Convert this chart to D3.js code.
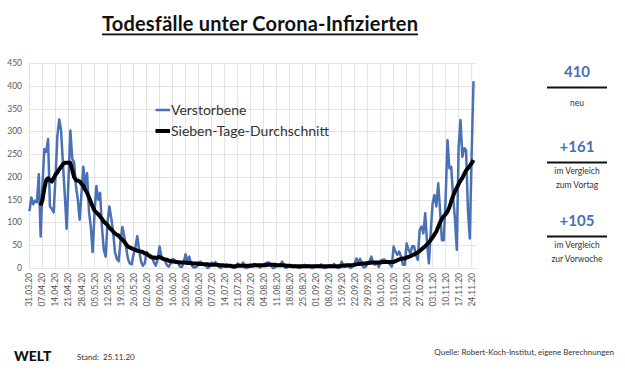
<!DOCTYPE html>
<html>
<head>
<meta charset="utf-8">
<script src="https://cdn.jsdelivr.net/npm/d3@7"></script>
<style>
  body { margin: 0; background: #fff; }
  svg { display: block; font-family: Lato, "Noto Sans", sans-serif; }
</style>
</head>
<body>
<svg id="chart" width="625" height="372"></svg>
<script>
// Tägliche Todesfälle (ab 31.03.20, Meldedatum)
var deathsStart = "31.03.20";
var deaths = [
  125, 155, 140, 148, 144, 206, 69,
  185, 261, 255, 283, 135, 130, 122,
  200, 290, 326, 302, 230, 160, 86,
  195, 302, 240, 232, 180, 150, 106,
  165, 222, 180, 208, 125, 90, 35,
  120, 180, 150, 165, 90, 40, 25,
  100, 135, 110, 80, 35, 20, 15,
  60, 90, 70, 45, 20, 10, 8,
  30, 45, 70, 40, 15, 5, 10,
  35, 30, 28, 25, 12, 5, 20,
  47, 25, 20, 15, 6, 3, 10,
  20, 18, 14, 10, 3, 2, 12,
  30, 15, 25, 8, 2, 1, 3,
  12, 14, 10, 8, 4, 0, 4,
  12, 8, 13, 6, 3, 0, 5,
  6, 8, 6, 4, 2, 0, 1,
  10, 7, 5, 12, 1, 0, 2,
  8, 7, 9, 7, 5, 1, 4,
  6, 10, 12, 12, 6, 0, 1,
  5, 8, 6, 14, 4, 0, 2,
  5, 6, 4, 6, 2, 0, 1,
  4, 7, 5, 6, 3, 0, 1,
  5, 6, 4, 8, 1, 0, 1,
  6, 5, 4, 9, 2, 0, 1,
  14, 6, 8, 5, 3, 0, 4,
  10, 21, 13, 20, 6, 1, 3,
  12, 15, 25, 10, 7, 12, 2,
  16, 18, 19, 14, 12, 8, 3,
  47, 36, 29, 36, 25, 7, 7,
  54, 40, 32, 48, 48, 29, 18,
  83, 91, 76, 120, 55, 10, 80,
  142, 160, 135, 186, 127, 61, 61,
  154, 281, 219, 222, 157, 109, 40,
  266, 325, 244, 263, 259, 127, 65,
  249, 410
];

// Sieben-Tage-Durchschnitt (ab 06.04.20)
var avgStart = "06.04.20";
var avg7 = [
  137, 150, 175, 193, 197, 193, 190, 197,
  205, 210, 217, 222, 228, 231, 231,
  231, 231, 215, 200, 193, 192, 190,
  185, 180, 172, 165, 155, 145, 135,
  126, 122, 118, 113, 108, 102, 98,
  94, 88, 85, 80, 76, 73, 71,
  66, 62, 58, 52, 47, 45, 43,
  41, 40, 38, 37, 36, 35, 32,
  31, 28, 25, 23, 23, 22, 23,
  24, 22, 20, 19, 18, 16, 15,
  14, 14, 13, 13, 12, 12, 12,
  12, 11, 11, 11, 10, 10, 10,
  9, 9, 9, 8, 8, 8, 7,
  7, 7, 7, 7, 6, 6, 6,
  5, 5, 5, 5, 4, 4, 4,
  5, 5, 5, 5, 5, 5, 5,
  5, 5, 6, 6, 6, 6, 6,
  6, 6, 7, 7, 7, 7, 7,
  6, 6, 6, 6, 6, 5, 5,
  5, 4, 4, 4, 4, 4, 4,
  4, 4, 4, 4, 4, 4, 4,
  4, 4, 4, 4, 4, 4, 4,
  4, 4, 4, 4, 4, 4, 4,
  5, 5, 5, 6, 6, 6, 6,
  7, 8, 9, 9, 10, 10, 10,
  11, 11, 12, 12, 12, 12, 12,
  12, 13, 13, 13, 13, 13, 13,
  13, 15, 17, 19, 20, 21, 21,
  23, 24, 26, 28, 30, 32, 34,
  37, 41, 44, 48, 52, 56, 62,
  67, 74, 80, 90, 100, 108, 114,
  118, 124, 133, 146, 158, 168, 176,
  184, 192, 198, 206, 214, 219, 224,
  230, 237
];

var weekLabels = ["31.03.20", "07.04.20", "14.04.20", "21.04.20", "28.04.20", "05.05.20",
  "12.05.20", "19.05.20", "26.05.20", "02.06.20", "09.06.20", "16.06.20", "23.06.20",
  "30.06.20", "07.07.20", "14.07.20", "21.07.20", "28.07.20", "04.08.20", "11.08.20",
  "18.08.20", "25.08.20", "01.09.20", "08.09.20", "15.09.20", "22.09.20", "29.09.20",
  "06.10.20", "13.10.20", "20.10.20", "27.10.20", "03.11.20", "10.11.20", "17.11.20",
  "24.11.20"];

var yTicks = [0, 50, 100, 150, 200, 250, 300, 350, 400, 450];

var legendLabels = ["Verstorbene", "Sieben-Tage-Durchschnitt"];

var kpiValues = ["410", "+161", "+105"];
var kpiCaptions = [["neu"], ["im Vergleich", "zum Vortag"], ["im Vergleich", "zur Vorwoche"]];

var standText = "Stand:  25.11.20";
var sourceText = "Quelle: Robert-Koch-Institut, eigene Berechnungen";

var blue = "#4a71b6";
var gridColor = "#e3e3e3";
var textGray = "#595959";

var parse = d3.timeParse("%d.%m.%y");
var svg = d3.select("#chart");

// Zeitachse
var x = d3.scaleTime()
    .domain([parse("31.03.20"), parse("25.11.20")])
    .range([29.5, 473.5]);

var y = d3.scaleLinear()
    .domain([0, 450])
    .range([268, 63]);

var plotRight = 476;

// Titel
var title = svg.append("text")
    .attr("x", 102)
    .attr("y", 31)
    .attr("textLength", 316)
    .attr("lengthAdjust", "spacing")
    .style("font-size", "20px")
    .style("font-weight", "700")
    .style("fill", "#111")
    .text("Todesfälle unter Corona-Infizierten");
svg.append("rect")
    .attr("x", 102)
    .attr("y", 33.5)
    .attr("width", 316)
    .attr("height", 1.8)
    .style("fill", "#111");

// Gitternetz horizontal
svg.append("g").selectAll("line")
    .data(yTicks)
    .enter()
    .append("line")
    .attr("x1", x.range()[0])
    .attr("x2", plotRight)
    .attr("y1", function(d) { return Math.round(y(d)) + 0.5; })
    .attr("y2", function(d) { return Math.round(y(d)) + 0.5; })
    .style("stroke", gridColor)
    .style("stroke-width", 1);

// Gitternetz vertikal
svg.append("g").selectAll("line")
    .data(weekLabels)
    .enter()
    .append("line")
    .attr("x1", function(d) { return x(parse(d)); })
    .attr("x2", function(d) { return x(parse(d)); })
    .attr("y1", y(450))
    .attr("y2", y(0))
    .style("stroke", gridColor)
    .style("stroke-width", 1);

// y-Beschriftung
svg.append("g").selectAll("text")
    .data(yTicks)
    .enter()
    .append("text")
    .attr("x", 22)
    .attr("y", function(d) { return y(d); })
    .attr("dy", "0.35em")
    .attr("text-anchor", "end")
    .style("font-size", "8.5px")
    .style("fill", textGray)
    .text(function(d) { return d; });

// x-Beschriftung (gedreht)
svg.append("g").selectAll("text")
    .data(weekLabels)
    .enter()
    .append("text")
    .attr("transform", function(d) { return "translate(" + x(parse(d)) + ",273) rotate(-90)"; })
    .attr("dy", "0.35em")
    .attr("text-anchor", "end")
    .style("font-size", "8.5px")
    .style("fill", textGray)
    .text(function(d) { return d; });

// Linien
var t0 = parse(deathsStart);
var t1 = parse(avgStart);

var line = d3.line()
    .x(function(d) { return x(d.date); })
    .y(function(d) { return y(d.value); });

var deathsData = deaths.map(function(v, i) {
    return { date: d3.timeDay.offset(t0, i), value: v };
});
var avgData = avg7.map(function(v, i) {
    return { date: d3.timeDay.offset(t1, i), value: v };
});

svg.append("path")
    .datum(deathsData)
    .attr("d", line)
    .style("fill", "none")
    .style("stroke", blue)
    .style("stroke-width", 2.5)
    .style("stroke-linejoin", "round");

svg.append("path")
    .datum(avgData)
    .attr("d", line)
    .style("fill", "none")
    .style("stroke", "#000")
    .style("stroke-width", 4)
    .style("stroke-linejoin", "round");

// Legende
var legend = svg.append("g");
var legendStyles = [{ color: blue, width: 2.5 }, { color: "#000", width: 4 }];
legendLabels.forEach(function(label, i) {
    var ly = 110 + i * 21;
    legend.append("line")
        .attr("x1", 155.5)
        .attr("x2", 170)
        .attr("y1", ly)
        .attr("y2", ly)
        .style("stroke", legendStyles[i].color)
        .style("stroke-width", legendStyles[i].width);
    legend.append("text")
        .attr("x", 171)
        .attr("y", ly)
        .attr("dy", "0.35em")
        .style("font-size", "14px")
        .style("fill", "#333")
        .text(label);
});

// Kennzahlen rechts
var kpi = svg.append("g");
var kpiTop = [72, 147, 221];
kpiValues.forEach(function(v, i) {
    var ky = kpiTop[i];
    kpi.append("text")
        .attr("x", 577)
        .attr("y", ky)
        .attr("dy", "0.35em")
        .attr("text-anchor", "middle")
        .style("font-size", "15px")
        .style("font-weight", "700")
        .style("fill", blue)
        .text(v);
    kpi.append("line")
        .attr("x1", 547)
        .attr("x2", 607)
        .attr("y1", ky + 15.5)
        .attr("y2", ky + 15.5)
        .style("stroke", "#111")
        .style("stroke-width", 1.8);
    kpiCaptions[i].forEach(function(c, j) {
        kpi.append("text")
            .attr("x", 577)
            .attr("y", ky + (i === 0 ? 31 : 24) + j * 14)
            .attr("dy", "0.35em")
            .attr("text-anchor", "middle")
            .style("font-size", "8.5px")
            .style("fill", "#333")
            .text(c);
    });
});

// Fußzeile
svg.append("text")
    .attr("x", 14)
    .attr("y", 361)
    .style("font-size", "14px")
    .style("font-weight", "900")
    .style("fill", "#111")
    .text("WELT");

svg.append("text")
    .attr("x", 77)
    .attr("y", 360)
    .style("font-size", "8px")
    .style("fill", "#333")
    .style("white-space", "pre")
    .text(standText);

svg.append("text")
    .attr("x", 614)
    .attr("y", 355)
    .attr("text-anchor", "end")
    .style("font-size", "8px")
    .style("fill", "#333")
    .text(sourceText);
</script>
</body>
</html>
